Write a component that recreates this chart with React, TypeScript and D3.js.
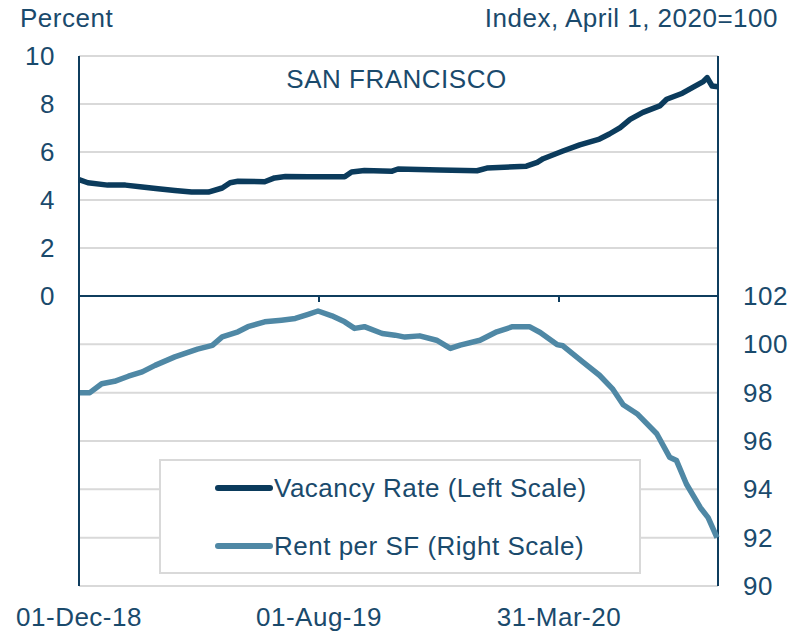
import React, { useEffect, useRef } from 'react';
import * as d3 from 'd3';

// Vacancy rate, percent (left scale)
const vacancyDates = [
  '2018-12-01', '2018-12-10', '2018-12-30', '2019-01-17', '2019-02-03', '2019-02-19',
  '2019-03-08', '2019-03-25', '2019-04-11', '2019-04-25', '2019-05-03', '2019-05-11',
  '2019-06-07', '2019-06-17', '2019-06-28', '2019-07-21', '2019-08-27', '2019-09-03',
  '2019-09-16', '2019-10-14', '2019-10-20', '2019-12-01', '2020-01-08', '2020-01-18',
  '2020-02-27', '2020-03-09', '2020-03-15', '2020-04-04', '2020-04-21', '2020-05-11',
  '2020-05-21', '2020-06-01', '2020-06-11', '2020-06-24', '2020-07-11', '2020-07-18',
  '2020-08-03', '2020-08-13', '2020-08-24', '2020-08-28', '2020-09-02', '2020-09-08',
];
const vacancyValues = [
  4.85, 4.72, 4.62, 4.62, 4.54, 4.47,
  4.40, 4.33, 4.33, 4.50, 4.72, 4.78,
  4.76, 4.92, 4.98, 4.97, 4.97, 5.17,
  5.23, 5.20, 5.29, 5.25, 5.22, 5.33,
  5.41, 5.57, 5.72, 6.04, 6.30, 6.54,
  6.75, 7.02, 7.36, 7.65, 7.92, 8.20,
  8.45, 8.68, 8.93, 9.10, 8.75, 8.72,
];

// Rent per SF, index April 1 2020 = 100 (right scale)
const rentDates = [
  '2018-12-02', '2018-12-12', '2018-12-24', '2019-01-06', '2019-01-20', '2019-02-03',
  '2019-02-16', '2019-03-08', '2019-03-31', '2019-04-15', '2019-04-25', '2019-05-11',
  '2019-05-21', '2019-06-07', '2019-06-24', '2019-07-08', '2019-07-21', '2019-07-31',
  '2019-08-14', '2019-08-27', '2019-09-06', '2019-09-16', '2019-10-04', '2019-10-17',
  '2019-10-27', '2019-11-11', '2019-11-28', '2019-12-12', '2019-12-22', '2020-01-11',
  '2020-01-28', '2020-02-13', '2020-03-01', '2020-03-12', '2020-03-29', '2020-04-04',
  '2020-04-24', '2020-05-11', '2020-05-24', '2020-06-04', '2020-06-18', '2020-07-08',
  '2020-07-21', '2020-07-28', '2020-08-07', '2020-08-21', '2020-08-29', '2020-09-07',
];
const rentValues = [
  98.0, 98.0, 98.37, 98.47, 98.68, 98.86,
  99.13, 99.48, 99.8, 99.96, 100.31, 100.52,
  100.73, 100.93, 101.0, 101.07, 101.24, 101.38,
  101.18, 100.93, 100.66, 100.73, 100.45, 100.38,
  100.3, 100.35, 100.17, 99.83, 99.97, 100.17,
  100.52, 100.73, 100.73, 100.49, 99.99, 99.94,
  99.27, 98.72, 98.17, 97.5, 97.13, 96.3,
  95.33, 95.19, 94.22, 93.25, 92.83, 92.0,
];

const leftTicks = [0, 2, 4, 6, 8, 10];
const rightTicks = [90, 92, 94, 96, 98, 100, 102];
const dateTicks = ['2018-12-01', '2019-08-01', '2020-03-31'];
const dateTickLabels = ['01-Dec-18', '01-Aug-19', '31-Mar-20'];
const seriesNames = ['Vacancy Rate (Left Scale)', 'Rent per SF (Right Scale)'];

const W = 800;
const H = 632;
const FONT = '"Liberation Sans", Arial, sans-serif';
const TEXT = '#1a4a6c';
const AXIS = '#0f3d5e';
const GRID = '#d9d9d9';
const DARK = '#0b3b5c';
const LIGHT = '#4f88a5';

const App: React.FC = () => {
  const svgRef = useRef<SVGSVGElement>(null);

  useEffect(() => {
    if (!svgRef.current) return;
    const svg = d3.select(svgRef.current);
    svg.selectAll('*').remove();

    const parse = d3.timeParse('%Y-%m-%d');
    const left = 79, right = 718, top = 56, mid = 296, bottom = 586;

    const x = d3.scaleTime()
      .domain([parse('2018-12-01')!, parse('2020-09-08')!])
      .range([left, right]);
    const yL = d3.scaleLinear().domain([0, 10]).range([mid, top]);
    const yR = d3.scaleLinear().domain([90, 102]).range([bottom, mid]);

    // gridlines
    svg.append('g')
      .selectAll('line')
      .data(leftTicks.filter(t => t > 0))
      .join('line')
      .attr('x1', left).attr('x2', right)
      .attr('y1', d => yL(d)).attr('y2', d => yL(d))
      .attr('stroke', GRID).attr('stroke-width', 2);
    svg.append('g')
      .selectAll('line')
      .data(rightTicks.filter(t => t < 102))
      .join('line')
      .attr('x1', left).attr('x2', right)
      .attr('y1', d => yR(d)).attr('y2', d => yR(d))
      .attr('stroke', GRID).attr('stroke-width', 2);

    // axes lines
    svg.append('line')
      .attr('x1', left).attr('x2', right).attr('y1', mid).attr('y2', mid)
      .attr('stroke', AXIS).attr('stroke-width', 2);
    svg.append('line')
      .attr('x1', left).attr('x2', left).attr('y1', top).attr('y2', bottom)
      .attr('stroke', AXIS).attr('stroke-width', 2);
    svg.append('line')
      .attr('x1', right).attr('x2', right).attr('y1', top).attr('y2', bottom)
      .attr('stroke', AXIS).attr('stroke-width', 2);

    // date ticks on the zero line
    svg.append('g')
      .selectAll('line')
      .data(dateTicks.slice(1))
      .join('line')
      .attr('x1', d => x(parse(d)!)).attr('x2', d => x(parse(d)!))
      .attr('y1', mid).attr('y2', mid + 6)
      .attr('stroke', AXIS).attr('stroke-width', 2);

    const txt = (sel: d3.Selection<any, any, any, any>) =>
      sel.attr('font-family', FONT).attr('font-size', 26)
        .attr('letter-spacing', '0.5px').attr('fill', TEXT);

    // left tick labels
    svg.append('g')
      .selectAll('text')
      .data(leftTicks)
      .join('text')
      .call(txt)
      .attr('x', 55).attr('y', d => yL(d)).attr('dy', '0.35em')
      .attr('text-anchor', 'end')
      .text(d => d);

    // right tick labels
    svg.append('g')
      .selectAll('text')
      .data(rightTicks)
      .join('text')
      .call(txt)
      .attr('x', 743).attr('y', d => yR(d)).attr('dy', '0.35em')
      .attr('text-anchor', 'start')
      .text(d => d);

    // date labels
    svg.append('g')
      .selectAll('text')
      .data(dateTicks)
      .join('text')
      .call(txt)
      .attr('x', d => x(parse(d)!)).attr('y', 626)
      .attr('text-anchor', 'middle')
      .text((d, i) => dateTickLabels[i]);

    svg.append('text').call(txt).attr('x', 20).attr('y', 27).text('Percent');
    svg.append('text').call(txt).attr('x', 778).attr('y', 27)
      .attr('text-anchor', 'end').text('Index, April 1, 2020=100');
    svg.append('text').call(txt).attr('x', (left + right) / 2 - 2).attr('y', 88)
      .attr('text-anchor', 'middle').text('SAN FRANCISCO');

    // legend box
    const lg = svg.append('g');
    lg.append('rect')
      .attr('x', 160).attr('y', 460).attr('width', 480).attr('height', 113)
      .attr('fill', '#fff').attr('stroke', GRID).attr('stroke-width', 2);
    const items = seriesNames.map((n, i) => ({ name: n, color: i === 0 ? DARK : LIGHT, y: i === 0 ? 488 : 546 }));
    lg.selectAll('line.key')
      .data(items)
      .join('line')
      .attr('class', 'key')
      .attr('x1', 218).attr('x2', 270)
      .attr('y1', d => d.y).attr('y2', d => d.y)
      .attr('stroke', d => d.color).attr('stroke-width', 6).attr('stroke-linecap', 'round');
    lg.selectAll('text')
      .data(items)
      .join('text')
      .call(txt)
      .attr('x', 274).attr('y', d => d.y).attr('dy', '0.35em')
      .text(d => d.name);

    // series
    const vac = vacancyDates.map((d, i) => ({ date: parse(d)!, v: vacancyValues[i] }));
    const rent = rentDates.map((d, i) => ({ date: parse(d)!, v: rentValues[i] }));

    svg.append('path')
      .datum(rent)
      .attr('fill', 'none')
      .attr('stroke', LIGHT)
      .attr('stroke-width', 5.5)
      .attr('stroke-linejoin', 'round')
      .attr('d', d3.line<{ date: Date; v: number }>().x(d => x(d.date)).y(d => yR(d.v)));

    svg.append('path')
      .datum(vac)
      .attr('fill', 'none')
      .attr('stroke', DARK)
      .attr('stroke-width', 5.5)
      .attr('stroke-linejoin', 'round')
      .attr('d', d3.line<{ date: Date; v: number }>().x(d => x(d.date)).y(d => yL(d.v)));
  }, []);

  return (
    <svg
      ref={svgRef}
      width={W}
      height={H}
      style={{ position: 'absolute', left: 0, top: 0, background: '#fff' }}
    />
  );
};

export default App;
